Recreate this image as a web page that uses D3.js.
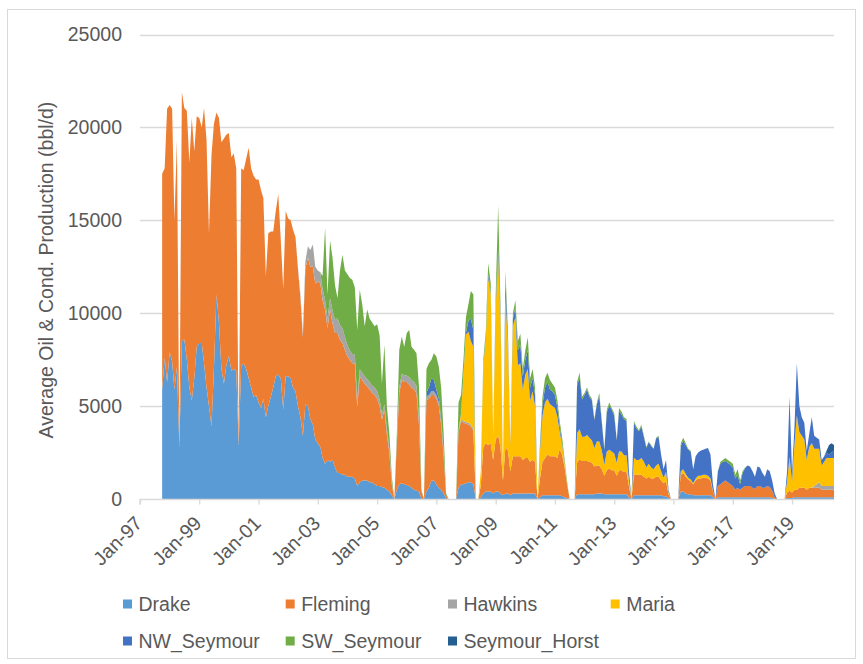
<!DOCTYPE html>
<html>
<head>
<meta charset="utf-8">
<script src="https://cdn.jsdelivr.net/npm/d3@7"></script>
<style>
  body { margin: 0; background: #fff; }
  text { font-family: "Liberation Sans", Arial, sans-serif; fill: #595959; }
</style>
</head>
<body>
<svg id="chart" width="863" height="664"></svg>
<script>
// Monthly average oil & condensate production (bbl/d), Oct-1997 .. Jun-2020.
// One row per calendar year (1997 starts in October, 2020 ends in June).
const firstMonth = new Date(1997, 9, 1);
const lastMonth = new Date(2020, 5, 1);

const fields = ["Drake", "Fleming", "Hawkins", "Maria", "NW_Seymour", "SW_Seymour", "Seymour_Horst"];
const colors = ["#5B9BD5", "#ED7D31", "#A5A5A5", "#FFC000", "#4472C4", "#70AD47", "#255E91"];

const drake = [
  5900,7600,6300,
  7900,7400,5900,7100,2850,8500,8600,7500,6000,5300,6500,8200,
  8400,8400,7300,6000,5000,3900,7000,11000,9500,7000,6200,7200,
  7700,6900,7000,6900,2900,7200,7300,7000,6500,6000,5500,5600,
  5200,4900,5400,4400,5000,5500,6000,6600,6700,6500,4800,6600,
  6600,6500,6000,5800,5000,4400,3400,5100,5000,4300,4000,3200,
  3000,2800,2200,1900,2100,2000,2100,1700,1400,1400,1300,1300,
  1200,1200,1200,1100,700,900,1000,1000,1000,900,900,800,
  700,700,650,600,500,400,200,0,500,800,850,800,
  750,700,600,500,450,400,0,0,400,600,1000,1000,
  800,600,500,300,50,0,0,0,0,600,800,800,
  850,900,900,800,0,0,100,300,400,400,400,300,
  400,400,300,200,300,300,200,300,300,300,300,300,
  300,300,300,300,300,0,100,200,200,200,200,200,
  200,200,200,150,100,50,0,0,0,250,250,250,
  250,250,250,250,250,300,300,300,250,250,250,250,
  250,250,250,250,250,250,100,0,200,200,200,200,
  200,200,200,200,200,200,200,200,150,150,50,0,
  0,0,0,400,400,300,250,250,200,200,200,200,
  200,200,200,200,100,0,100,100,100,100,100,100,
  100,100,100,100,100,100,100,100,100,100,100,100,
  100,100,100,100,50,0,0,0,0,0,50,50,
  50,100,100,100,100,100,100,100,100,100,100,100,
  100,100,100,100,100,100
];

const fleming = [
  11600,10200,14700,
  13300,13600,9100,12200,0,13400,12450,13400,12100,15200,12200,12400,
  12100,11600,13750,13300,9300,14600,13200,9800,11000,12200,13200,12400,
  12000,11500,11600,10900,0,10600,10400,11300,12400,11800,11900,11600,
  12000,11700,10800,7600,9300,8900,8400,8900,9700,7500,6500,8900,
  8500,8500,8500,8300,7400,6400,5300,7300,8000,8200,8500,8400,
  8700,8800,8500,8300,7100,8200,7360,7230,7530,7170,7090,6730,
  6470,6290,6110,6210,4270,5690,5400,5200,5050,5000,4800,4800,
  4700,4300,3610,4200,3000,2060,600,0,2500,4900,5550,5500,
  5550,5450,5400,5400,5250,3600,400,0,4930,4800,4600,4600,
  4600,4400,3500,2000,150,0,0,0,0,3000,3400,3300,
  3200,3100,3000,2900,0,0,600,2500,2600,2500,2600,1800,
  2800,3000,2500,800,2500,2300,1300,2000,2000,2000,2000,1800,
  1900,1900,1700,1800,1700,0,1000,1800,2000,2200,2100,2100,
  2100,2000,2500,2200,1600,700,0,0,0,1700,1900,1800,
  1800,1800,1750,1700,1500,1500,1500,1300,1000,1300,1400,1300,
  1300,1000,1300,1300,1200,1200,600,0,1100,1100,1100,1100,
  1000,900,1000,900,900,1000,1000,800,700,800,200,0,
  0,0,0,900,1000,900,800,700,600,800,900,900,
  950,950,900,800,300,0,600,700,800,900,800,700,
  600,400,500,400,500,600,600,600,500,450,600,600,
  500,500,600,550,400,100,0,0,0,0,300,400,
  300,400,400,500,500,500,400,500,500,500,500,500,
  400,400,400,400,400,400
];

const hawkins = [
  0,0,0,
  0,0,0,0,0,0,0,0,0,0,0,0,
  0,0,0,0,0,0,0,0,0,0,0,0,
  0,0,0,0,0,0,0,0,0,0,0,0,
  0,0,0,0,0,0,0,0,0,0,0,0,
  0,0,0,0,100,200,200,400,600,900,1200,900,
  600,600,600,500,500,600,700,700,800,800,800,700,
  600,500,500,500,400,400,400,400,400,400,400,400,
  400,350,300,300,300,250,100,0,200,300,350,350,
  350,400,400,400,400,350,50,0,200,200,200,200,
  200,200,200,200,0,0,0,0,0,100,100,100,
  100,100,100,100,0,0,0,0,0,0,0,0,
  0,0,0,0,0,0,0,0,0,0,0,0,
  0,0,0,0,0,0,0,0,0,0,0,0,
  0,0,0,0,0,0,0,0,0,0,0,0,
  0,0,0,0,0,0,0,0,0,0,0,0,
  0,0,0,0,0,0,0,0,0,0,0,0,
  0,0,0,0,0,0,0,0,0,0,0,0,
  0,0,0,0,0,0,0,0,0,0,0,0,
  0,0,0,0,0,0,0,0,0,0,0,0,
  0,0,0,0,0,0,0,0,0,0,0,0,
  0,0,0,0,0,0,0,0,0,0,0,0,
  0,0,0,0,0,0,0,0,0,100,200,300,
  200,200,200,200,200,200
];

const maria = [
  0,0,0,
  0,0,0,0,0,0,0,0,0,0,0,0,
  0,0,0,0,0,0,0,0,0,0,0,0,
  0,0,0,0,0,0,0,0,0,0,0,0,
  0,0,0,0,0,0,0,0,0,0,0,0,
  0,0,0,0,0,0,0,0,0,0,0,0,
  0,0,0,0,0,0,0,0,0,0,0,0,
  0,0,0,0,0,0,0,0,0,0,0,0,
  0,0,0,0,0,0,0,0,0,0,0,0,
  0,0,0,0,0,0,0,0,0,0,0,0,
  0,0,0,0,0,0,0,0,0,0,300,2500,
  4700,4900,4500,4400,0,0,800,4400,5600,9000,8000,1300,
  7200,9500,7000,500,8000,5800,1400,7000,7500,4900,5000,3800,
  4500,4800,3300,3700,3000,0,1500,2500,3000,3000,2800,2700,
  2600,2200,900,500,200,50,0,0,0,1600,1600,1300,
  1300,1400,1300,1200,1000,1300,1300,1000,600,1000,1000,1000,
  900,700,1000,1000,900,900,300,0,900,800,800,900,
  800,600,700,600,500,600,700,500,300,500,100,0,
  0,0,0,200,200,150,100,100,50,100,150,150,
  150,150,150,100,50,0,0,0,0,0,0,0,
  0,0,0,0,0,0,0,0,0,0,0,0,
  0,0,0,0,0,0,0,0,0,0,600,1800,
  600,2500,4000,3000,2800,2600,1600,2200,2400,2000,1900,1800,
  1100,1300,1500,1500,1500,1500
];

const nwSeymour = [
  0,0,0,
  0,0,0,0,0,0,0,0,0,0,0,0,
  0,0,0,0,0,0,0,0,0,0,0,0,
  0,0,0,0,0,0,0,0,0,0,0,0,
  0,0,0,0,0,0,0,0,0,0,0,0,
  0,0,0,0,0,0,0,0,0,0,0,0,
  0,0,0,0,0,0,0,0,0,0,0,0,
  0,0,0,0,0,0,0,0,0,0,0,0,
  0,0,0,0,0,0,0,0,0,0,0,0,
  0,0,0,0,0,0,0,0,200,400,700,600,
  300,200,100,50,0,0,0,0,0,0,0,0,
  100,600,1200,900,0,0,0,0,0,200,100,0,
  200,500,300,0,1000,400,100,400,500,800,1000,700,
  800,1000,700,700,600,0,200,600,800,900,800,800,
  700,500,300,100,0,0,0,0,0,2550,2800,2000,
  2250,2450,2200,2150,1500,2000,2450,1500,800,2100,2400,2250,
  2050,1200,2200,2000,1950,1850,500,0,1900,1700,1550,1700,
  1350,1050,1150,1150,1100,1450,1450,900,450,650,150,0,
  0,0,0,1350,1550,1550,1500,1500,750,1200,1250,1350,
  1350,1400,1500,1300,350,0,800,1100,1100,1050,1050,1050,
  1000,600,700,300,800,950,1100,1050,900,650,1050,1000,
  800,600,900,850,550,200,0,0,0,0,550,3250,
  450,1000,2800,1400,1000,900,500,700,1400,700,600,500,
  300,300,300,200,300,400
];

const swSeymour = [
  0,0,0,
  0,0,0,0,0,0,0,0,0,0,0,0,
  0,0,0,0,0,0,0,0,0,0,0,0,
  0,0,0,0,0,0,0,0,0,0,0,0,
  0,0,0,0,0,0,0,0,0,0,0,0,
  0,0,0,0,0,0,0,0,0,0,0,0,
  0,0,700,3900,1300,3100,2840,1870,1070,2930,3960,3570,
  3830,3910,3990,3590,3730,4270,3700,2700,3750,3400,3400,3300,
  3600,3450,1640,3200,1200,790,300,0,340,2030,1980,1550,
  2280,2550,1800,1730,1750,1700,50,0,1270,1310,990,1450,
  1770,1700,1700,950,100,0,0,0,0,1500,1000,800,
  850,900,1500,1900,0,0,0,300,400,600,500,100,
  400,2400,400,0,500,200,0,300,400,500,600,400,
  500,700,500,500,400,0,200,400,500,500,500,400,
  400,400,300,300,200,100,0,0,0,200,250,150,
  100,100,100,100,50,100,150,100,50,150,150,100,
  100,50,150,150,100,100,0,0,100,100,50,100,
  50,50,50,50,0,50,50,0,0,0,0,0,
  0,0,0,150,150,100,50,50,0,0,0,0,
  0,0,0,0,0,0,0,100,100,150,150,150,
  200,200,300,200,100,50,0,0,0,0,0,0,
  0,0,0,0,0,0,0,0,0,0,0,0,
  0,0,0,0,0,0,0,0,0,0,0,0,
  0,0,0,0,0,0
];

const seymourHorst = [
  0,0,0,
  0,0,0,0,0,0,0,0,0,0,0,0,
  0,0,0,0,0,0,0,0,0,0,0,0,
  0,0,0,0,0,0,0,0,0,0,0,0,
  0,0,0,0,0,0,0,0,0,0,0,0,
  0,0,0,0,0,0,0,0,0,0,0,0,
  0,0,0,0,0,0,0,0,0,0,0,0,
  0,0,0,0,0,0,0,0,0,0,0,0,
  0,0,0,0,0,0,0,0,0,0,0,0,
  0,0,0,0,0,0,0,0,0,0,0,0,
  0,0,0,0,0,0,0,0,0,0,0,0,
  0,0,0,0,0,0,0,0,0,0,0,0,
  0,0,0,0,0,0,0,0,0,0,0,0,
  0,0,0,0,0,0,0,0,0,0,0,0,
  0,0,0,0,0,0,0,0,0,0,0,0,
  0,0,0,0,0,0,0,0,0,0,0,0,
  0,0,0,0,0,0,0,0,0,0,0,0,
  0,0,0,0,0,0,0,0,0,0,0,0,
  0,0,0,0,0,0,0,0,0,0,0,0,
  0,0,0,0,0,0,0,0,0,0,0,0,
  0,0,0,0,0,0,0,0,0,0,0,0,
  0,0,0,0,0,0,0,0,0,0,0,0,
  0,0,0,0,0,0,0,0,0,0,0,0,
  0,0,100,500,500,300
];

const seriesValues = [drake, fleming, hawkins, maria, nwSeymour, swSeymour, seymourHorst];
const yTicks = [0, 5000, 10000, 15000, 20000, 25000];
const xTickYears = [1997, 1999, 2001, 2003, 2005, 2007, 2009, 2011, 2013, 2015, 2017, 2019];
const yTitle = "Average Oil & Cond. Production (bbl/d)";

const months = d3.timeMonth.range(firstMonth, d3.timeMonth.offset(lastMonth, 1));
seriesValues.forEach((arr, k) => {
  if (arr.length !== months.length) throw new Error(fields[k] + " has " + arr.length + " values, expected " + months.length);
});
const rows = months.map((date, i) => {
  const r = { date };
  fields.forEach((f, k) => { r[f] = seriesValues[k][i]; });
  return r;
});

const svg = d3.select("#chart");
const plot = { left: 140, right: 834, top: 34.5, bottom: 499 };
const fontSize = 19.5;

svg.append("rect").attr("width", 863).attr("height", 664).attr("fill", "#fff");
svg.append("rect")
  .attr("x", 7.5).attr("y", 9.5).attr("width", 848).attr("height", 649)
  .attr("fill", "none").attr("stroke", "#d9d9d9").attr("stroke-width", 1);

const x = d3.scaleTime().domain([new Date(1997, 0, 1), lastMonth]).range([plot.left, plot.right]);
const y = d3.scaleLinear().domain([0, 25000]).range([plot.bottom, plot.top]);

// horizontal gridlines
svg.append("g").selectAll("line").data(yTicks.filter(v => v > 0)).join("line")
  .attr("x1", plot.left).attr("x2", plot.right)
  .attr("y1", d => Math.round(y(d)) + 0.5).attr("y2", d => Math.round(y(d)) + 0.5)
  .attr("stroke", "#d9d9d9").attr("stroke-width", 1.3);

// stacked areas
const stacked = d3.stack().keys(fields)(rows);
const area = d3.area()
  .x(d => x(d.data.date))
  .y0(d => y(d[0]))
  .y1(d => y(d[1]));
svg.append("g").selectAll("path").data(stacked).join("path")
  .attr("d", area)
  .attr("fill", (d, i) => colors[i]);

// y axis labels
const yAxis = d3.axisLeft(y).tickValues(yTicks).tickSize(0).tickPadding(18).tickFormat(d3.format("d"));
const gy = svg.append("g").attr("transform", `translate(${plot.left},0)`).call(yAxis);
gy.select(".domain").remove();
gy.selectAll("text").attr("font-size", fontSize).attr("fill", "#595959")
  .attr("font-family", '"Liberation Sans", Arial, sans-serif');

// x axis
const xTicks = xTickYears.map(yr => new Date(yr, 0, 1));
const xAxis = d3.axisBottom(x).tickValues(xTicks).tickSize(5).tickFormat(d3.timeFormat("%b-%y"));
const gx = svg.append("g").attr("transform", `translate(0,${plot.bottom + 0.5})`).call(xAxis);
gx.select(".domain").attr("stroke", "#d9d9d9").attr("stroke-width", 1.3)
  .attr("d", `M${plot.left},5V0H${plot.right}`);
gx.selectAll(".tick line").attr("stroke", "#d9d9d9").attr("stroke-width", 1.3);
gx.selectAll(".tick text")
  .attr("font-size", fontSize).attr("fill", "#595959")
  .attr("font-family", '"Liberation Sans", Arial, sans-serif')
  .attr("text-anchor", "end")
  .attr("transform", "translate(3,25) rotate(-45)")
  .attr("x", 0).attr("y", 0).attr("dy", 0);

// y axis title
svg.append("text")
  .attr("transform", "translate(53,270) rotate(-90)")
  .attr("text-anchor", "middle")
  .attr("font-size", fontSize)
  .text(yTitle);

// legend
const legendCols = [123, 285.7, 448, 610.7];
const legendRows = [604, 641];
const legend = svg.append("g").selectAll("g").data(fields).join("g")
  .attr("transform", (d, i) => `translate(${legendCols[i % 4]},${legendRows[Math.floor(i / 4)]})`);
legend.append("rect").attr("x", 0).attr("y", -4.5).attr("width", 9).attr("height", 9)
  .attr("fill", (d, i) => colors[i]);
legend.append("text").attr("x", 15.5).attr("y", 0).attr("dy", "0.35em")
  .attr("font-size", fontSize).text(d => d);
</script>
</body>
</html>
